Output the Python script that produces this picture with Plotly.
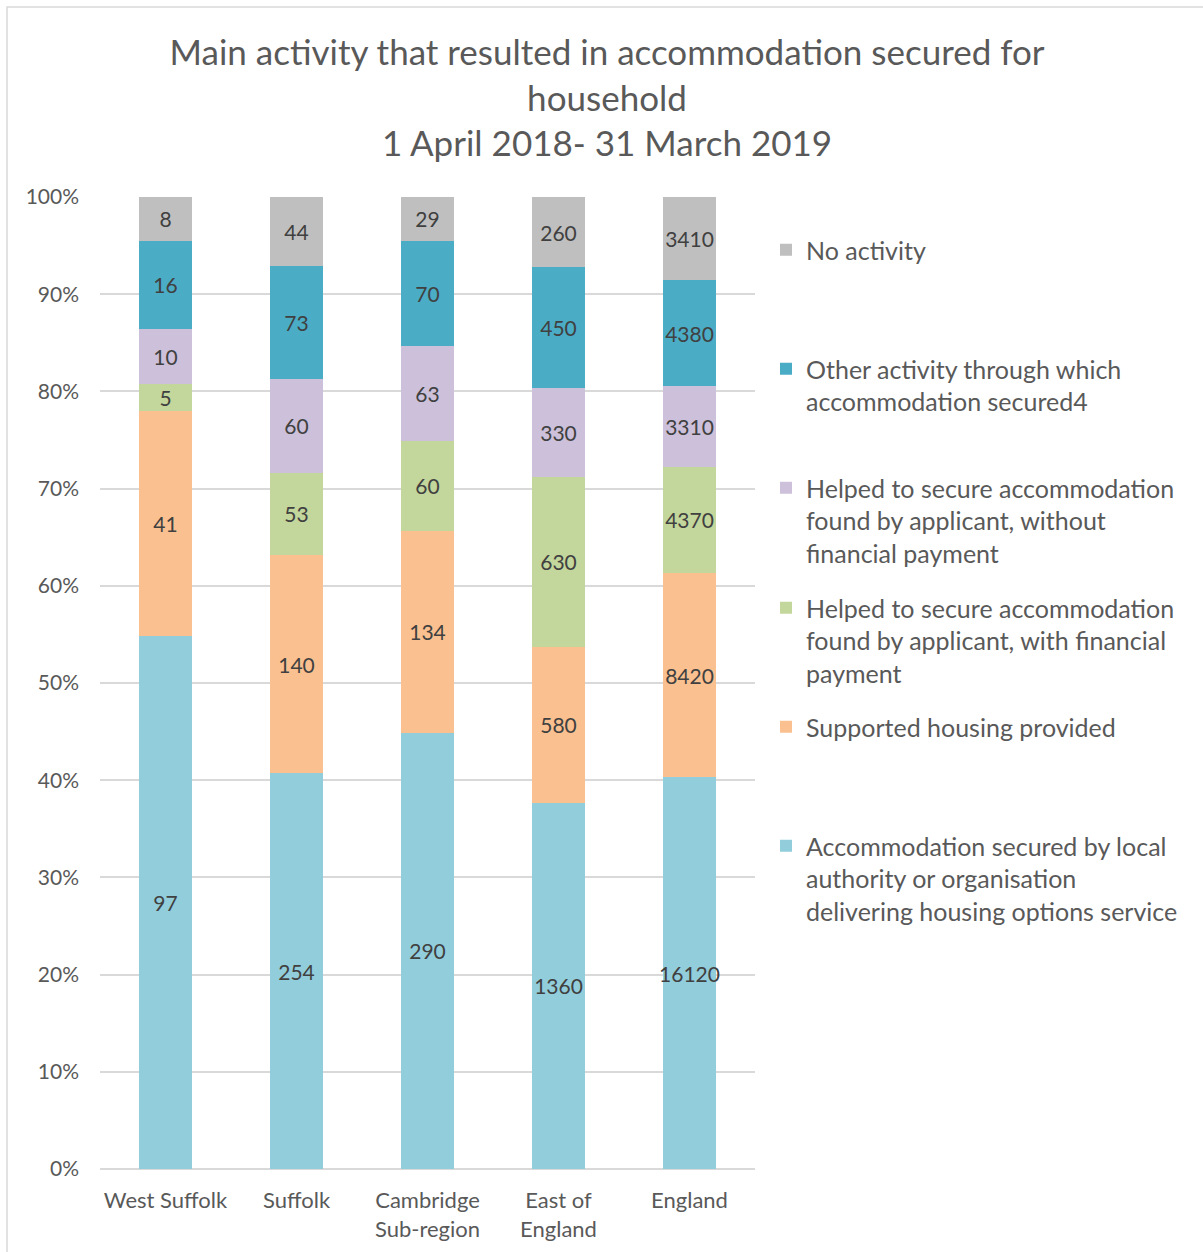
import plotly.graph_objects as go

# Areas compared, left to right
areas = ["West Suffolk", "Suffolk", "Cambridge<br>Sub-region", "East of<br>England", "England"]

# Households by main activity (counts), bottom of stack first
accom_local = [97, 254, 290, 1360, 16120]
supported = [41, 140, 134, 580, 8420]
helped_with_payment = [5, 53, 60, 630, 4370]
helped_without_payment = [10, 60, 63, 330, 3310]
other_activity = [16, 73, 70, 450, 4380]
no_activity = [8, 44, 29, 260, 3410]

series = [
    ("Accommodation secured by local<br>authority or organisation<br>delivering housing options service", accom_local, "#92CDDC"),
    ("Supported housing provided", supported, "#FAC090"),
    ("Helped to secure accommodation<br>found by applicant, with financial<br>payment", helped_with_payment, "#C3D69B"),
    ("Helped to secure accommodation<br>found by applicant, without<br>financial payment", helped_without_payment, "#CCC0DA"),
    ("Other activity through which<br>accommodation secured4", other_activity, "#4BACC6"),
    ("No activity", no_activity, "#BFBFBF"),
]

FONT = "Lato"
W, H = 1203, 1252
L, R, T, B = 100, 448, 197, 83
PW, PH = W - L - R, H - T - B

# Legend first-line centres (px from top), same order as series
legend_rows = [847, 728, 609, 489, 370, 251]

fig = go.Figure()
layout_legends = {}
for i, (name, vals, color) in enumerate(series):
    key = "legend" if i == 0 else f"legend{i + 1}"
    fig.add_trace(go.Bar(
        x=areas, y=vals, name=name,
        marker=dict(color=color, line=dict(width=0)),
        text=[str(v) for v in vals],
        textposition="inside", insidetextanchor="middle", textangle=0,
        textfont=dict(family=FONT, size=21, color="#404040"),
        legend=key, showlegend=True,
    ))
    ypix = legend_rows[i] - 24
    layout_legends[key] = dict(
        x=(766 - L) / PW, xanchor="left",
        y=1 - (ypix - T) / PH, yanchor="top",
        valign="top", bgcolor="rgba(0,0,0,0)",
        font=dict(family=FONT, size=25, color="#595959"),
        itemwidth=30, visible=True,
    )

fig.update_layout(
    width=W, height=H,
    margin=dict(l=L, r=R, t=T, b=B, autoexpand=False),
    barmode="stack", barnorm="percent", bargap=0.595,
    paper_bgcolor="white", plot_bgcolor="white",
    font=dict(family=FONT, color="#595959"),
    showlegend=True,
    uniformtext=dict(minsize=21, mode="show"),
    title=dict(
        text="Main activity that resulted in accommodation secured for<br>household<br>1 April 2018- 31 March 2019",
        x=607 / W, xanchor="center", y=1 - 65 / H, yanchor="top",
        font=dict(family=FONT, size=35, color="#595959"),
    ),
    xaxis=dict(
        showgrid=False, showline=False, ticks="",
        tickfont=dict(family=FONT, size=22, color="#595959"),
        ticklabelstandoff=16,
    ),
    yaxis=dict(
        range=[0, 100], dtick=10, ticksuffix="%",
        showgrid=True, gridcolor="#D9D9D9", gridwidth=1.5,
        zeroline=True, zerolinecolor="#D9D9D9", zerolinewidth=1.5,
        showline=False, ticks="",
        tickfont=dict(family=FONT, size=21, color="#595959"),
        ticklabelstandoff=20,
    ),
    shapes=[dict(
        type="rect", xref="paper", yref="paper",
        x0=(7 - L) / PW, x1=(W + 20 - L) / PW,
        y0=-(B + 20) / PH, y1=1 + (T - 7) / PH,
        line=dict(color="#D9D9D9", width=1.5), fillcolor="rgba(0,0,0,0)", layer="below",
    )],
    **layout_legends,
)

fig.write_html("out.html")
